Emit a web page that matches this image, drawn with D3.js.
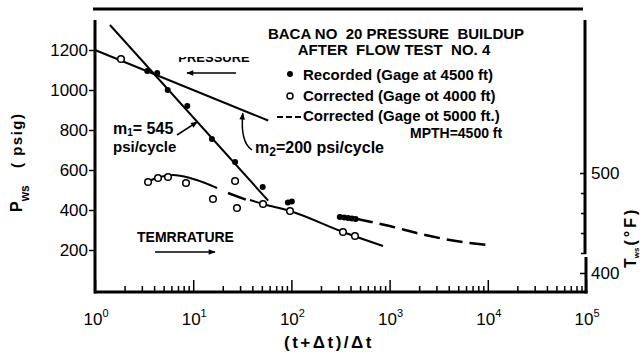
<!DOCTYPE html>
<html>
<head>
<meta charset="utf-8">
<script src="https://cdn.jsdelivr.net/npm/d3@7/dist/d3.min.js"></script>
<style>
  body { margin: 0; background: #fff; }
  svg { display: block; }
  text { font-family: "Liberation Sans", Arial, Helvetica, sans-serif; fill: #000; }
</style>
</head>
<body>
<svg id="chart" width="642" height="354"></svg>
<script>
// Horner plot, Baca No. 20 buildup: (t+Δt)/Δt against pressure (psig) and temperature (°F)
const xTicks = [1, 10, 100, 1000, 10000, 100000];
const xExponents = ["0", "1", "2", "3", "4", "5"];
const pTicks = [200, 400, 600, 800, 1000, 1200];
const tTicks = [400, 500];
const tMinorTicks = [420, 440, 460, 480];

// Recorded pressure, gage at 4500 ft
const recordedT = [3.4, 4.3, 5.5, 8.7, 15.5, 26.7, 51, 92, 101, 311, 345, 378, 414, 451];
const recordedP = [1095, 1085, 1000, 920, 755, 640, 515, 438, 442, 365, 362, 360, 357, 355];
// Corrected pressure, gage at 4000 ft
const correctedT = [1.84];
const correctedP = [1155];
// Corrected pressure, gage at 5000 ft
const deepT = [466, 1000, 2000, 4100, 9800];
const deepP = [355, 320, 282, 250, 225];

// Straight-line fits (psi/cycle)
const m1 = 545, m1Intercept = 1408, m1Range = [1.42, 58];
const m2 = 200, m2Intercept = 1200, m2Range = [1, 58];

// Temperature readings and trend
const tempPtT = [3.47, 4.38, 5.54, 8.45, 15.9, 26.7, 27.9, 51.4, 96.8, 335, 444];
const tempPtV = [491, 495, 496, 490, 474, 492, 465, 469, 462, 441, 437];
const tempArchT = [3.23, 4.38, 6.23, 9.27, 13.2, 17.5];
const tempArchV = [490, 495.5, 498, 495, 490, 485];
const tempGapT = [22.6, 35.3];
const tempGapV = [480, 473];
const tempTailT = [37.9, 51.4, 96.8, 335, 857];
const tempTailV = [473, 469, 462, 441, 427];

const svg = d3.select("#chart");
const x = d3.scaleLog().domain([1, 1e5]).range([95, 586]);
const yP = d3.scaleLinear().domain([-10, 1350]).range([292, 20]);
const yT = d3.scaleLinear().domain([381, 653]).range([292, 20]);

const zip = (a, b) => a.map((v, i) => [v, b[i]]);
const fitLine = (m, b, r) => r.map(t => [t, b - m * Math.log10(t)]);

const defs = svg.append("defs");
defs.append("marker").attr("id", "arrow")
  .attr("viewBox", "0 0 10 10").attr("refX", 9).attr("refY", 5)
  .attr("markerUnits", "userSpaceOnUse").attr("markerWidth", 8).attr("markerHeight", 7)
  .attr("orient", "auto")
  .append("path").attr("d", "M0,1L10,5L0,9Z").attr("fill", "#000");
defs.append("clipPath").attr("id", "pressClip")
  .append("rect").attr("x", 150).attr("y", 57).attr("width", 140).attr("height", 12);

// frame
const frame = svg.append("g").attr("stroke", "#000").attr("stroke-width", 3).attr("fill", "none");
frame.append("line").attr("x1", 93).attr("x2", 583).attr("y1", 9).attr("y2", 9);
frame.append("line").attr("x1", 95).attr("x2", 95).attr("y1", 20).attr("y2", 293.5);
frame.append("line").attr("x1", 94).attr("x2", 587.5).attr("y1", 292).attr("y2", 292);
frame.append("line").attr("x1", 585).attr("x2", 585).attr("y1", 20).attr("y2", 254);
frame.append("line").attr("x1", 586).attr("x2", 586).attr("y1", 257).attr("y2", 293.5);

// bottom axis ticks (pointing inward)
const minor = [];
xTicks.slice(0, -1).forEach(d => { for (let k = 2; k <= 9; k++) minor.push(d * k); });
const gx = svg.append("g").attr("transform", "translate(0,292)");
gx.call(d3.axisBottom(x).tickValues(minor).tickSize(-6).tickFormat(""));
gx.call(g => g.append("g").call(d3.axisBottom(x).tickValues(xTicks).tickSize(-12).tickFormat("")));
gx.selectAll(".domain").remove();
gx.selectAll("line").attr("stroke", "#000").attr("stroke-width", 1.5);

xTicks.forEach((v, i) => {
  const t = svg.append("text").attr("x", x(v) + 1).attr("y", 325)
    .attr("text-anchor", "middle").style("font-size", "17px");
  t.append("tspan").text("10");
  t.append("tspan").attr("dy", -8).style("font-size", "11px").text(xExponents[i]);
});
svg.append("text").attr("x", 329).attr("y", 348).attr("text-anchor", "middle")
  .style("font-size", "17px").style("font-weight", "bold").style("letter-spacing", "2.5px")
  .text("(t+Δt)/Δt");

// left pressure axis
const gl = svg.append("g").attr("transform", "translate(95,0)");
gl.call(d3.axisLeft(yP).tickValues(pTicks).tickSize(6).tickPadding(1).tickFormat(d3.format("d")));
gl.selectAll(".domain").remove();
gl.selectAll("line").attr("stroke", "#000").attr("stroke-width", 1.5);
gl.selectAll("text").style("font-size", "17px").attr("fill", "#000");

// right temperature axis
const gr = svg.append("g").attr("transform", "translate(586,0)");
gr.call(d3.axisRight(yT).tickValues(tTicks).tickSize(-6).tickPadding(5).tickFormat(d3.format("d")));
gr.call(g => g.append("g").call(d3.axisRight(yT).tickValues(tMinorTicks).tickSize(-5).tickFormat("")));
gr.selectAll(".domain").remove();
gr.selectAll("line").attr("stroke", "#000").attr("stroke-width", 1.5);
gr.selectAll("text").style("font-size", "17px").attr("fill", "#000");

// axis titles
const yt = svg.append("g").attr("transform", "translate(22,212) rotate(-90)")
  .style("font-weight", "bold");
const ytP = yt.append("text").style("font-size", "16px");
ytP.append("tspan").text("P");
ytP.append("tspan").attr("dy", 7).style("font-size", "12px").text("ws");
yt.append("text").attr("x", 44).style("font-size", "15px").style("letter-spacing", "1.5px").text("( psig)");

const rt = svg.append("g").attr("transform", "translate(636,268) rotate(-90)")
  .style("font-weight", "bold");
const rtT = rt.append("text").style("font-size", "16px");
rtT.append("tspan").text("T");
rtT.append("tspan").attr("dy", 3).style("font-size", "8px").text("ws");
rtT.append("tspan").attr("dy", -3).attr("dx", 2).style("letter-spacing", "3px").text("(°F)");

// fitted lines
const lineP = d3.line().x(d => x(d[0])).y(d => yP(d[1]));
const curveP = d3.line().x(d => x(d[0])).y(d => yP(d[1])).curve(d3.curveMonotoneX);
const curveT = d3.line().x(d => x(d[0])).y(d => yT(d[1])).curve(d3.curveMonotoneX);
const plot = svg.append("g").attr("fill", "none").attr("stroke", "#000");

plot.append("path").attr("d", lineP(fitLine(m1, m1Intercept, m1Range))).attr("stroke-width", 2);
plot.append("path").attr("d", lineP(fitLine(m2, m2Intercept, m2Range))).attr("stroke-width", 2);
plot.append("path").attr("d", curveP(zip(deepT, deepP))).attr("stroke-width", 2.5)
  .attr("stroke-dasharray", "16,7");

plot.append("path").attr("d", curveT(zip(tempArchT, tempArchV))).attr("stroke-width", 2);
plot.append("path").attr("d", curveT(zip(tempGapT, tempGapV))).attr("stroke-width", 2.5)
  .attr("stroke-dasharray", "19,40");
plot.append("path").attr("d", curveT(zip(tempTailT, tempTailV))).attr("stroke-width", 2);

// data points
svg.append("g").selectAll("circle").data(zip(recordedT, recordedP)).join("circle")
  .attr("cx", d => x(d[0])).attr("cy", d => yP(d[1])).attr("r", 3).attr("fill", "#000");
svg.append("g").selectAll("circle").data(zip(correctedT, correctedP)).join("circle")
  .attr("cx", d => x(d[0])).attr("cy", d => yP(d[1])).attr("r", 3.3)
  .attr("fill", "#fff").attr("stroke", "#000").attr("stroke-width", 1.5);
svg.append("g").selectAll("circle").data(zip(tempPtT, tempPtV)).join("circle")
  .attr("cx", d => x(d[0])).attr("cy", d => yT(d[1])).attr("r", 3.3)
  .attr("fill", "#fff").attr("stroke", "#000").attr("stroke-width", 1.5);

// title and legend
const title = svg.append("g").style("font-weight", "bold").style("font-size", "15px");
title.append("text").attr("x", 396).attr("y", 39).attr("text-anchor", "middle")
  .attr("xml:space", "preserve").text("BACA NO  20 PRESSURE  BUILDUP");
title.append("text").attr("x", 394).attr("y", 55).attr("text-anchor", "middle")
  .attr("xml:space", "preserve").text("AFTER  FLOW TEST  NO. 4");
title.append("circle").attr("cx", 290).attr("cy", 74).attr("r", 3).attr("fill", "#000");
title.append("text").attr("x", 303).attr("y", 80).text("Recorded (Gage at 4500 ft)");
title.append("circle").attr("cx", 290).attr("cy", 96).attr("r", 3)
  .attr("fill", "#fff").attr("stroke", "#000").attr("stroke-width", 1.5);
title.append("text").attr("x", 303).attr("y", 101).text("Corrected (Gage ot 4000 ft)");
title.append("line").attr("x1", 277).attr("x2", 302).attr("y1", 117).attr("y2", 117)
  .attr("stroke", "#000").attr("stroke-width", 2).attr("stroke-dasharray", "6,3");
title.append("text").attr("x", 303).attr("y", 121).text("Corrected (Gage ot 5000 ft.)");
title.append("text").attr("x", 410).attr("y", 138).style("font-size", "14px").text("MPTH=4500 ft");

// annotations
const ann = svg.append("g").style("font-weight", "bold");
ann.append("text").attr("x", 214).attr("y", 62).attr("text-anchor", "middle")
  .attr("clip-path", "url(#pressClip)").style("font-size", "13px").text("PRESSURE");
ann.append("line").attr("x1", 236).attr("x2", 187).attr("y1", 73).attr("y2", 73)
  .attr("stroke", "#000").attr("stroke-width", 1.5).attr("marker-end", "url(#arrow)");
ann.append("text").attr("x", 137).attr("y", 242).style("font-size", "14px").text("TEMRRATURE");
ann.append("line").attr("x1", 155).attr("x2", 215).attr("y1", 252).attr("y2", 252)
  .attr("stroke", "#000").attr("stroke-width", 1.5).attr("marker-end", "url(#arrow)");

const m1Label = ann.append("text").attr("x", 113).attr("y", 134).style("font-size", "16px");
m1Label.append("tspan").text("m");
m1Label.append("tspan").attr("dy", 2).style("font-size", "10px").text("1");
m1Label.append("tspan").attr("dy", -2).text("= 545");
ann.append("text").attr("x", 113).attr("y", 152).style("font-size", "15px").text("psi/cycle");

const m2Label = ann.append("text").attr("x", 255).attr("y", 153).style("font-size", "16px");
m2Label.append("tspan").text("m");
m2Label.append("tspan").attr("dy", 3).style("font-size", "12px").text("2");
m2Label.append("tspan").attr("dy", -3).text("=200 psi/cycle");

// leaders pointing at the fitted lines
const m1Tip = [x(11), yP(m1Intercept - m1 * Math.log10(11))];
ann.append("path").attr("d", `M177,135L${m1Tip[0]},${m1Tip[1]}`)
  .attr("stroke", "#000").attr("stroke-width", 1.5).attr("fill", "none").attr("marker-end", "url(#arrow)");
const m2Tip = [x(32), yP(m2Intercept - m2 * Math.log10(32)) + 3];
ann.append("path").attr("d", `M252,150Q240,142 ${m2Tip[0]},${m2Tip[1]}`)
  .attr("stroke", "#000").attr("stroke-width", 1.5).attr("fill", "none").attr("marker-end", "url(#arrow)");
</script>
</body>
</html>
